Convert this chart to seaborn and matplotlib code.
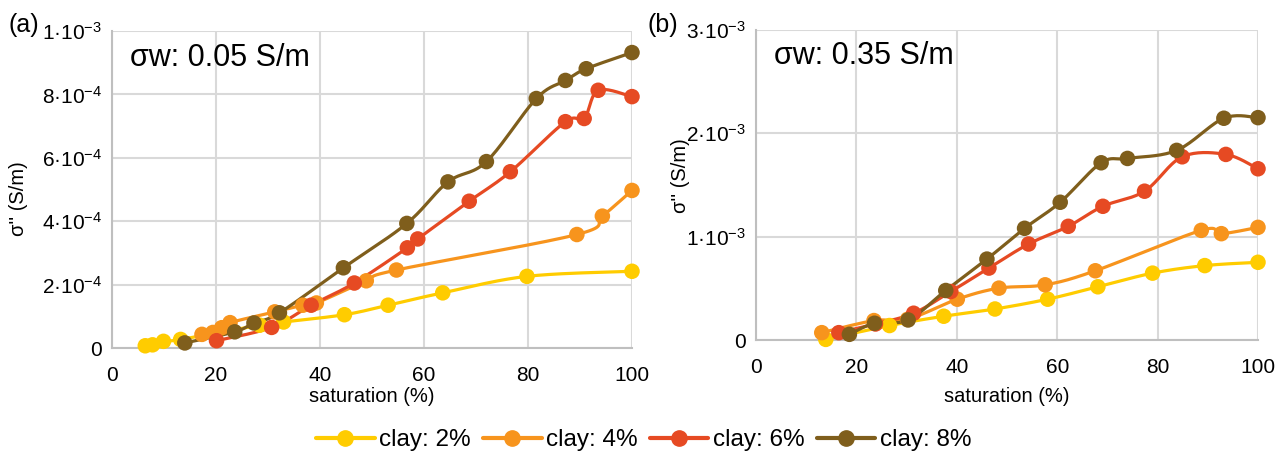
import numpy as np
import pandas as pd
import matplotlib
matplotlib.use("Agg")
import matplotlib.pyplot as plt
from matplotlib.lines import Line2D
import seaborn as sns

# ---------------- data ----------------
clay_labels = ["clay: 2%", "clay: 4%", "clay: 6%", "clay: 8%"]
colors = ["#FFCC00", "#F7941D", "#E64A23", "#7F5E1C"]

# panel (a): sigma_w = 0.05 S/m
a_x_2 = [6.4, 7.8, 9.9, 13.2, 28.4, 33.0, 44.7, 53.1, 63.6, 79.8, 100]
a_y_2 = [0.07e-4, 0.10e-4, 0.21e-4, 0.27e-4, 0.72e-4, 0.82e-4, 1.05e-4, 1.35e-4, 1.74e-4, 2.26e-4, 2.42e-4]
a_x_4 = [17.3, 19.4, 21.1, 22.7, 31.3, 36.7, 39.3, 48.9, 54.7, 89.4, 94.3, 100]
a_y_4 = [0.43e-4, 0.49e-4, 0.64e-4, 0.80e-4, 1.14e-4, 1.35e-4, 1.42e-4, 2.12e-4, 2.46e-4, 3.58e-4, 4.16e-4, 4.97e-4]
a_x_6 = [20.1, 30.7, 38.3, 46.6, 56.8, 58.8, 68.7, 76.6, 87.2, 90.8, 93.5, 100]
a_y_6 = [0.23e-4, 0.65e-4, 1.35e-4, 2.05e-4, 3.16e-4, 3.44e-4, 4.63e-4, 5.56e-4, 7.14e-4, 7.24e-4, 8.13e-4, 7.93e-4]
a_x_8 = [14.0, 23.6, 27.3, 32.2, 44.5, 56.7, 64.6, 72.0, 81.6, 87.2, 91.2, 100]
a_y_8 = [0.16e-4, 0.51e-4, 0.79e-4, 1.11e-4, 2.53e-4, 3.93e-4, 5.24e-4, 5.88e-4, 7.87e-4, 8.44e-4, 8.81e-4, 9.32e-4]

# panel (b): sigma_w = 0.35 S/m
b_x_2 = [13.9, 26.6, 37.4, 47.6, 58.1, 68.1, 79.0, 89.4, 100]
b_y_2 = [0.006e-3, 0.14e-3, 0.23e-3, 0.30e-3, 0.395e-3, 0.515e-3, 0.647e-3, 0.72e-3, 0.752e-3]
b_x_4 = [13.1, 23.5, 30.2, 40.1, 48.4, 57.6, 67.6, 88.7, 92.7, 100]
b_y_4 = [0.071e-3, 0.188e-3, 0.20e-3, 0.395e-3, 0.502e-3, 0.534e-3, 0.67e-3, 1.061e-3, 1.029e-3, 1.09e-3]
b_x_6 = [16.5, 23.8, 31.4, 38.8, 46.4, 54.3, 62.2, 69.1, 77.4, 84.9, 93.6, 100]
b_y_6 = [0.071e-3, 0.155e-3, 0.259e-3, 0.469e-3, 0.696e-3, 0.929e-3, 1.10e-3, 1.294e-3, 1.44e-3, 1.773e-3, 1.796e-3, 1.657e-3]
b_x_8 = [18.6, 23.6, 30.3, 37.8, 46.0, 53.5, 60.6, 68.75, 74.0, 83.8, 93.2, 100]
b_y_8 = [0.055e-3, 0.162e-3, 0.194e-3, 0.479e-3, 0.783e-3, 1.081e-3, 1.333e-3, 1.715e-3, 1.757e-3, 1.835e-3, 2.146e-3, 2.152e-3]

a_yticks = [0, 2e-4, 4e-4, 6e-4, 8e-4, 1e-3]
a_yticklabels = ["0", "2·10$^{-4}$", "4·10$^{-4}$", "6·10$^{-4}$", "8·10$^{-4}$", "1·10$^{-3}$"]
b_yticks = [0, 1e-3, 2e-3, 3e-3]
b_yticklabels = ["0", "1·10$^{-3}$", "2·10$^{-3}$", "3·10$^{-3}$"]
xticks = [0, 20, 40, 60, 80, 100]

# ---------------- style ----------------
sns.set_theme(style="white")
plt.rcParams["font.family"] = ["Liberation Sans", "DejaVu Sans"]
plt.rcParams["mathtext.fontset"] = "custom"
plt.rcParams["mathtext.rm"] = "Liberation Sans"
plt.rcParams["mathtext.it"] = "Liberation Sans:italic"
plt.rcParams["mathtext.bf"] = "Liberation Sans:bold"
plt.rcParams["axes.unicode_minus"] = False
for k in ["text.color", "axes.labelcolor", "xtick.color", "ytick.color"]:
    plt.rcParams[k] = "black"

GRID = "#D9D9D9"
AXIS = "#BFBFBF"
TICK_FS = 15
LABEL_FS = 14.5


def smooth(x, y, n=20):
    """Bezier smoothing (tension 1/6) for line rendering, like Excel smoothed lines."""
    x = np.asarray(x, float)
    y = np.asarray(y, float)
    px = np.concatenate([[x[0]], x, [x[-1]]])
    py = np.concatenate([[y[0]], y, [y[-1]]])
    xs, ys = [], []
    t = np.linspace(0, 1, n)
    for i in range(1, len(px) - 2):
        p0x, p1x, p2x, p3x = px[i - 1], px[i], px[i + 1], px[i + 2]
        p0y, p1y, p2y, p3y = py[i - 1], py[i], py[i + 1], py[i + 2]
        c1x = p1x + (p2x - p0x) / 6
        c1y = p1y + (p2y - p0y) / 6
        c2x = p2x - (p3x - p1x) / 6
        c2y = p2y - (p3y - p1y) / 6
        bx = (1 - t) ** 3 * p1x + 3 * (1 - t) ** 2 * t * c1x + 3 * (1 - t) * t ** 2 * c2x + t ** 3 * p2x
        by = (1 - t) ** 3 * p1y + 3 * (1 - t) ** 2 * t * c1y + 3 * (1 - t) * t ** 2 * c2y + t ** 3 * p2y
        xs.append(bx)
        ys.append(by)
    return np.concatenate(xs), np.concatenate(ys)


fig = plt.figure(figsize=(12.88, 4.53), dpi=100)
ax_a = fig.add_axes([112 / 1288, 1 - 348 / 453, 520 / 1288, 317 / 453])
ax_b = fig.add_axes([756 / 1288, 1 - 340 / 453, 502 / 1288, 310 / 453])

panels = [
    (ax_a, [(a_x_2, a_y_2), (a_x_4, a_y_4), (a_x_6, a_y_6), (a_x_8, a_y_8)],
     1e-3, a_yticks, a_yticklabels, "σw: 0.05 S/m"),
    (ax_b, [(b_x_2, b_y_2), (b_x_4, b_y_4), (b_x_6, b_y_6), (b_x_8, b_y_8)],
     3e-3, b_yticks, b_yticklabels, "σw: 0.35 S/m"),
]

for ax, series, ymax, yt, ytl, note in panels:
    for (xs, ys), lab, col in zip(series, clay_labels, colors):
        sx, sy = smooth(xs, ys)
        curve = pd.DataFrame({"x": sx, "y": sy})
        sns.lineplot(data=curve, x="x", y="y", ax=ax, color=col, lw=2.3,
                     sort=False, estimator=None, clip_on=False, zorder=3)
        pts = pd.DataFrame({"x": xs, "y": ys})
        sns.scatterplot(data=pts, x="x", y="y", ax=ax, color=col, s=125,
                        edgecolor="none", clip_on=False, zorder=4)
    ax.set_xlim(0, 100)
    ax.set_ylim(0, ymax)
    ax.set_xticks(xticks)
    ax.set_xticklabels([str(v) for v in xticks], fontsize=TICK_FS)
    ax.set_yticks(yt)
    ax.set_yticklabels(ytl, fontsize=TICK_FS)
    ax.grid(True, color=GRID, lw=1.5)
    ax.set_axisbelow(True)
    for s in ["top", "right"]:
        ax.spines[s].set_visible(False)
    for s in ["left", "bottom"]:
        ax.spines[s].set_color(AXIS)
        ax.spines[s].set_linewidth(1.5)
    ax.tick_params(axis="both", length=0, colors="black")
    ax.tick_params(axis="y", pad=7)
    ax.tick_params(axis="x", pad=13)
    ax.set_xlabel("saturation (%)", fontsize=LABEL_FS)
    ax.set_ylabel("σ'' (S/m)", fontsize=LABEL_FS)
    ax.text(0.035, 0.915, note, transform=ax.transAxes, fontsize=22,
            va="center", ha="left")

ax_a.xaxis.set_label_coords(0.5, -0.123)
ax_b.xaxis.set_label_coords(0.5, -0.15)
ax_a.yaxis.set_label_coords(-0.162, 0.47)
ax_b.yaxis.set_label_coords(-0.131, 0.53)

fig.text(8 / 1288, 1 - 25 / 453, "(a)", fontsize=18, va="center", ha="left")
fig.text(648 / 1288, 1 - 25 / 453, "(b)", fontsize=18, va="center", ha="left")

handles = [Line2D([0], [0], color=c, lw=3, marker="o", markersize=11,
                  markeredgecolor=c) for c in colors]
fig.legend(handles, clay_labels, loc="center", bbox_to_anchor=(0.5, 1 - 440 / 453),
           ncol=4, frameon=False, fontsize=17.5, handlelength=2.4,
           columnspacing=0.5, handletextpad=0.2)

fig.savefig("out.png", dpi=100)
